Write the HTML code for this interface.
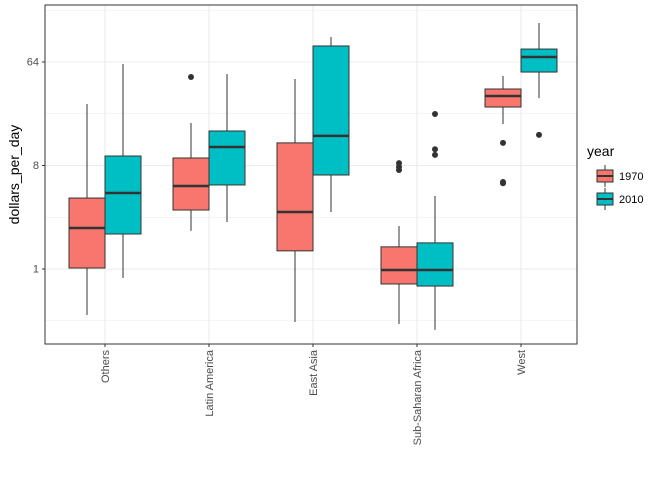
<!DOCTYPE html>
<html><head><meta charset="utf-8"><style>
body{margin:0;background:#fff;font-family:"Liberation Sans",sans-serif}
</style></head><body>
<svg id="c" width="672" height="480" xmlns="http://www.w3.org/2000/svg"></svg>
<script>
const categories=["Others","Latin America","East Asia","Sub-Saharan Africa","West"];
const years=["1970","2010"];
const colors=["#F8766D","#00BFC4"];
// [lowerWhisker, q1, median, q3, upperWhisker]
const stats1970=[[0.397,1.02,2.28,4.16,27.5],[2.15,3.27,5.3,9.3,18.8],[0.345,1.44,3.14,12.6,45.5],[0.331,0.74,0.98,1.56,2.37],[18.4,25.9,32.3,37.2,48.3]];
const stats2010=[[0.835,2.02,4.6,9.68,61.5],[2.57,5.41,11.6,16,50.3],[3.14,6.61,14.5,88.3,105.8],[0.294,0.71,0.98,1.69,4.33],[31,52.3,70.8,83,140]];
const outliers1970=[[],[47.3],[],[8.4,7.76,7.3],[12.6,5.74,5.6]];
const outliers2010=[[],[],[],[22.5,11.1,9.9],[14.8]];
const yTicks=[1,8,64];
const yMinor=[Math.pow(2,-1.5),Math.pow(2,1.5),Math.pow(2,4.5),Math.pow(2,7.5)];

const NS="http://www.w3.org/2000/svg";
const svg=document.getElementById('c');
const L=45,R=577,T=5,B=344;
const lmin=-2.174,lmax=7.652;
function y(v){return B-(Math.log2(v)-lmin)/(lmax-lmin)*(B-T);}
const step=104;
function x(i){return L+60+i*step;}
function el(tag,a,parent){const e=document.createElementNS(NS,tag);for(const k in a)e.setAttribute(k,a[k]);(parent||svg).appendChild(e);return e;}
const g=el('g',{});


yMinor.forEach(v=>{if(y(v)>T&&y(v)<B)el('line',{x1:L,x2:R,y1:y(v),y2:y(v),stroke:'#ebebeb','stroke-width':0.6},g);});
yTicks.forEach(v=>el('line',{x1:L,x2:R,y1:y(v),y2:y(v),stroke:'#ebebeb','stroke-width':1.1},g));
categories.forEach((c,i)=>el('line',{x1:x(i),x2:x(i),y1:T,y2:B,stroke:'#ebebeb','stroke-width':1.1},g));
const bw=36;
[stats1970,stats2010].forEach((S,k)=>{
  const outs=k?outliers2010:outliers1970;
  S.forEach((s,i)=>{
    const cx=x(i)+(k?18:-18);
    const bg=el('g',{},g);
    
    
    el('line',{x1:cx,x2:cx,y1:y(s[0]),y2:y(s[1]),stroke:'#333','stroke-width':1},bg);
    el('line',{x1:cx,x2:cx,y1:y(s[3]),y2:y(s[4]),stroke:'#333','stroke-width':1},bg);
    el('rect',{x:cx-bw/2,y:y(s[3]),width:bw,height:y(s[1])-y(s[3]),fill:colors[k],stroke:'#333','stroke-width':1},bg);
    el('line',{x1:cx-bw/2,x2:cx+bw/2,y1:y(s[2]),y2:y(s[2]),stroke:'#333','stroke-width':2.5},bg);
    outs[i].forEach(o=>{const p=el('circle',{cx:cx,cy:y(o),r:3,fill:'#333'},bg);
      
      });
  });
});
el('rect',{x:L,y:T,width:R-L,height:B-T,fill:'none',stroke:'#333','stroke-width':1});
yTicks.forEach(v=>{
  el('line',{x1:L-3,x2:L,y1:y(v),y2:y(v),stroke:'#333'});
  const t=el('text',{x:L-6,y:y(v)+3.5,'text-anchor':'end','font-size':11,fill:'#4d4d4d'});
  t.textContent=v;
  
  
});
categories.forEach((c,i)=>{
  el('line',{x1:x(i),x2:x(i),y1:B,y2:B+3,stroke:'#333'});
  const t=el('text',{x:0,y:0,transform:`translate(${x(i)+4},${B+6}) rotate(-90)`,'text-anchor':'end','font-size':11,fill:'#4d4d4d'});
  t.textContent=c;
  
  
});
const yt=el('text',{x:0,y:0,transform:`translate(19,${(T+B)/2}) rotate(-90)`,'text-anchor':'middle','font-size':14,fill:'#000'});
yt.textContent='dollars_per_day';


const lg=el('g',{});


const lt=el('text',{x:587,y:156,'font-size':14},lg);lt.textContent='year';
years.forEach((yr,k)=>{
  const cy=176+k*23;
  const e=el('g',{},lg);
  
  
  el('line',{x1:605,x2:605,y1:cy-11,y2:cy+11,stroke:'#333'},e);
  el('rect',{x:597,y:cy-6,width:16,height:12,fill:colors[k],stroke:'#333'},e);
  el('line',{x1:597,x2:613,y1:cy,y2:cy,stroke:'#333','stroke-width':2},e);
  const t=el('text',{x:619,y:cy+4,'font-size':11},e);t.textContent=yr;
});
</script>
</body></html>
